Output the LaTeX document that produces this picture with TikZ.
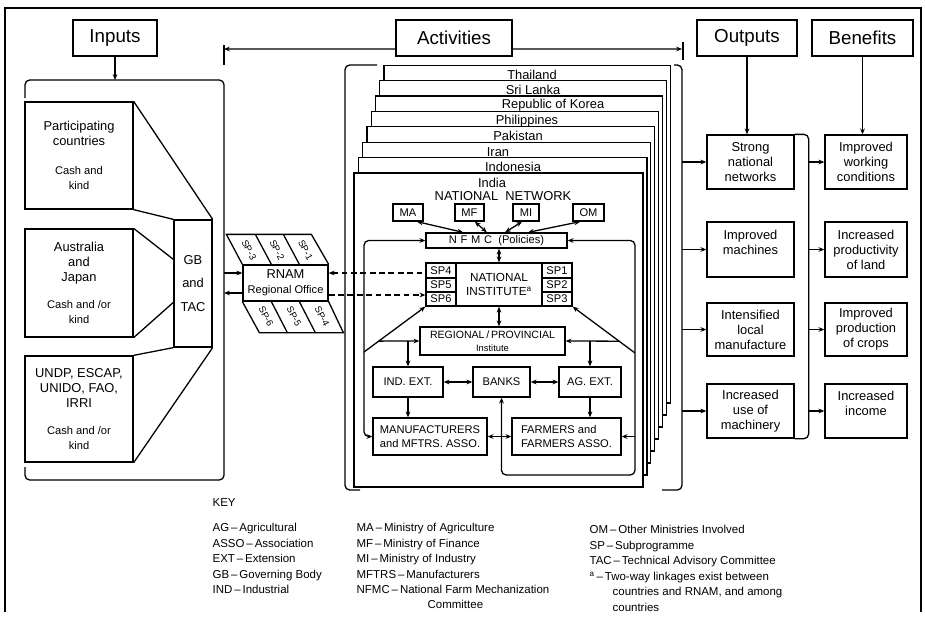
\documentclass[tikz,border=0pt]{standalone}
\usepackage{fontspec}
\setmainfont{Liberation Sans}
\usetikzlibrary{arrows.meta,calc}
\newcommand\sm{\fontsize{9.5}{12}\selectfont}

\begin{document}
\begin{tikzpicture}[x=0.3mm,y=-0.3mm,line width=1.1pt,
  >={Stealth[length=5pt,width=4pt]},
  box/.style={draw,inner sep=0pt,align=center,font=\fontsize{11}{12.8}\selectfont},
  wh/.style 2 args={minimum width={#1*0.3mm},minimum height={#2*0.3mm}},
  head/.style={box,line width=1.3pt,font=\fontsize{16}{18}\selectfont},
  small/.style={font=\fontsize{9.5}{11.5}\selectfont},
  spl/.style={rotate=-62,inner sep=0pt,font=\fontsize{8}{8.5}\selectfont},
  dashln/.style={line width=0.9pt,dash pattern=on 5pt off 3pt},
  key/.style={anchor=base west,inner sep=0pt,font=\fontsize{9.8}{11}\selectfont}]

  \useasboundingbox (0,0) rectangle (925,619);
  \draw[line width=1.4pt] (5,612) -- (5,8) -- (921,8) -- (921,612);

  % headings
  \node[head,wh={84}{36}] (inputs) at (115,38) {Inputs};
  \node[head,wh={116}{36}] (act) at (454,38) {Activities};
  \node[head,wh={100}{36}] (outputs) at (747,38) {Outputs};
  \node[head,wh={101}{36}] (benefits) at (862.5,38) {Benefits};

  % inputs
  \coordinate (inR) at (224,0); \coordinate (inT) at (115,80);
  \draw[rounded corners=4pt] (25,98) -- (25,80) -- (224,80) -- (224,480) -- (25,480) -- (25,467);
  \draw[->] (inputs) -- (inT);
  \node[box,wh={108}{107}] (pc) at (79,155.5) {Participating\\countries\\[12pt]\sm Cash and\\\sm kind};
  \node[box,wh={108}{108}] (aj) at (79,283) {Australia\\and\\Japan\\[10pt]\sm Cash and /or\\\sm kind};
  \node[box,wh={108}{106}] (un) at (79,409) {UNDP, ESCAP,\\UNIDO, FAO,\\IRRI\\[10pt]\sm Cash and /or\\\sm kind};
  \node[box,wh={38}{127},font=\fontsize{11}{20}\selectfont] (gb) at (193,283.5) {GB\\and\\TAC};
  \draw (pc.north east) -- (gb.north east); \draw (pc.south east) -- (gb.north west);
  \draw (aj.north east) -- ($(gb.north west)+(0,40)$); \draw (aj.south east) -- ($(gb.north west)+(0,83)$);
  \draw (un.north east) -- (gb.south west); \draw (un.south east) -- (gb.south east);

  % regional office
  \node[box,wh={85}{36}] (rnam) at (285.5,283) {RNAM\\\sm Regional Office};
  \draw (rnam.north west) -- ++(-16,-30) -- ++(85,0) -- (rnam.north east);
  \draw ($(rnam.north west)+(29,0)$) -- ++(-16,-30); \draw ($(rnam.north west)+(57,0)$) -- ++(-16,-30);
  \draw (rnam.south west) -- ++(17,31) -- ++(84,0) -- (rnam.south east);
  \draw ($(rnam.south west)+(29,0)$) -- ++(16,31); \draw ($(rnam.south west)+(57,0)$) -- ++(16,31);
  \foreach \t/\x in {3/249,2/277,1/305.5} \node[spl] (spt\t) at (\x,250) {SP-\t};
  \foreach \t/\x in {6/266,5/294,4/322} \node[spl] (spb\t) at (\x,316.5) {SP-\t};
  \coordinate (ra) at ([yshift=3mm]rnam.west); \coordinate (rb) at ([yshift=-3mm]rnam.west);
  \draw[->] (ra -| inR) -- (ra); \draw[<-] (rb -| inR) -- (rb);

  % country pages
  \foreach \k in {7,...,0}
    \filldraw[fill=white] ({354+4.3*\k},{173-15.4*\k}) rectangle ({643+3.9*\k},{487-12*\k});
  \foreach \c/\x [count=\k from 0] in {India/492,Indonesia/513,Iran/498,Pakistan/518,Philippines/527,Republic of Korea/553,Sri Lanka/533,Thailand/532}
    \node[inner sep=0pt,font=\fontsize{11}{12}\selectfont] (c\k) at (\x,{182.5-15.4*\k}) {\c};
  \node[inner sep=0pt,font=\fontsize{11}{12}\selectfont] (nn) at (503,196) {NATIONAL\ \ NETWORK};
  \draw[rounded corners=4pt] (377,65) -- (345,65) -- (345,490) -- (360,490);
  \draw[rounded corners=4pt] (674,65) -- (682,65) -- (682,490) -- (662,490);
  \coordinate (actL) at (224,49); \coordinate (actRt) at (682,49);
  \draw[->] ([yshift=-3.3mm]act.west) -- (actL); \draw[->] ([yshift=-3.3mm]act.east) -- (actRt);
  \draw (224,45) -- (224,65); \draw (683,42) -- (683,60);

  % national network
  \node[box,small,wh={30}{17}] (ma) at (408,212.5) {MA};
  \node[box,small,wh={29}{17}] (mf) at (469.5,212.5) {MF};
  \node[box,small,wh={26}{17}] (mi) at (526,212.5) {MI};
  \node[box,small,wh={31}{17}] (om) at (588.5,212.5) {OM};
  \node[box,small,wh={141}{15}] (nfmc) at (496.5,240.5) {N\,\,F\,\,M\,\,C\ \ (Policies)};
  \draw[<->] ([xshift=2.7mm]ma.south) -- ([xshift=-10mm]nfmc.north);
  \draw[<->] ([xshift=1.6mm]mf.south) -- ([xshift=-2.9mm]nfmc.north);
  \draw[<->] ([xshift=-1.2mm]mi.south) -- ([xshift=2.6mm]nfmc.north);
  \draw[<->] ([xshift=-2.5mm]om.south) -- ([xshift=9.5mm]nfmc.north);

  \node[box,wh={86}{43},font=\fontsize{10}{12.5}\selectfont] (ni) at (499,284.5) {NATIONAL\\INSTITUTE\textsuperscript{a}};
  \node[box,small,wh={30}{15}] (sp4) at (441,270.5) {SP4};
  \node[box,small,wh={30}{14}] (sp5) at (441,285) {SP5};
  \node[box,small,wh={30}{14}] (sp6) at (441,299) {SP6};
  \node[box,small,wh={30}{15}] (sp1) at (557,270.5) {SP1};
  \node[box,small,wh={30}{14}] (sp2) at (557,285) {SP2};
  \node[box,small,wh={30}{14}] (sp3) at (557,299) {SP3};
  \coordinate (rc) at ([yshift=3mm]rnam.east); \coordinate (rd) at ([yshift=-3.6mm]rnam.east);
  \draw[dashln,<-] (rc) -- (rc -| sp4.west);
  \draw[dashln,->] (rd) -- (rd -| sp6.west);

  \node[box,wh={145}{28},font=\fontsize{9}{11}\selectfont] (reg) at (492.5,341) {REGIONAL\,/\,PROVINCIAL\\\fontsize{8}{9}\selectfont Institute};
  \node[box,small,wh={70}{30}] (ind) at (408,382) {IND. EXT.};
  \node[box,small,wh={57}{30}] (banks) at (501.5,382) {BANKS};
  \node[box,small,wh={62}{30}] (ag) at (590,382) {AG. EXT.};
  \node[box,small,wh={114}{37}] (manuf) at (430,436.5) {MANUFACTURERS\\and MFTRS. ASSO.};
  \node[box,small,wh={109}{37},align=left] (farm) at (566.5,436.5) {FARMERS and\\FARMERS ASSO.};
  \draw[<->] (ni.north) -- (ni.north |- nfmc.south);
  \draw[<->] (ni.south) -- (ni.south |- reg.north);

  \coordinate (loopL) at (364,0); \coordinate (loopR) at (635,0); \coordinate (loopB) at (635,475);
  \coordinate (dL) at (364,352); \coordinate (dR) at (635,353);
  \draw[->] (dL) -- (sp6.south west); \draw[->] (dR) -- (sp3.south east);
  \coordinate (jL) at ($(dL)!0.24!(sp6.south west)$); \coordinate (jR) at ($(dR)!0.255!(sp3.south east)$);
  \draw[->] (jL) -- (reg.west); \draw[->] (jR) -- (reg.east);
  \draw[->] (ind.north |- reg.west) -- (ind.north); \draw[->] (ag.north |- reg.east) -- (ag.north);
  \draw[<->] (ind) -- (banks); \draw[<->] (banks) -- (ag);
  \draw[->] (ind) -- (ind |- manuf.north); \draw[->] (ag) -- (ag |- farm.north);
  \draw[<->] (manuf) -- (farm);
  \draw[<->,rounded corners=4pt] (manuf.west) -| (loopL |- nfmc.west) -- (nfmc.west);
  \draw[<->,rounded corners=4pt] (nfmc.east) -| (loopB) -| (banks.south);
  \draw[->] (farm.east -| loopR) -- (farm.east);

  % outputs and benefits
  \foreach \i/\y/\h/\o/\b in {1/162/54/{Strong\\national\\networks}/{Improved\\working\\conditions},
      2/249.5/55/{Improved\\machines\\\mbox{}}/{Increased\\productivity\\of land},
      3/329.5/53/{Intensified\\local\\manufacture}/{Improved\\production\\of crops},
      4/411/54/{Increased\\use of\\machinery}/{Increased\\income\\\mbox{}}} {
    \node[box,wh={87}{\h}] (out\i) at (750.5,\y) {\o};
    \node[box,wh={82}{\h}] (ben\i) at (866,\y) {\b};
  }
  \draw[->] (outputs) -- (outputs |- out1.north); \draw[->] (benefits) -- (benefits |- ben1.north);
  \draw[rounded corners=4pt] (out1.north east) -- ++(14,0) |- (out4.south east);
  \coordinate (outR) at (808,0);
  \foreach \i in {1,...,4} {
    \draw[->] (out\i.west -| actRt) -- (out\i.west);
    \draw[->] (ben\i.west -| outR) -- (ben\i.west);
  }

  % key
  \node[key] (keyt) at (212,506) {KEY};
  \foreach \t [count=\i] in {AG\,–\,Agricultural,ASSO\,–\,Association,EXT\,–\,Extension,GB\,–\,Governing Body,IND\,–\,Industrial}
    \node[key] (kl\i) at (212,{516+15.5*\i}) {\t};
  \foreach \t [count=\i] in {MA\,–\,Ministry of Agriculture,MF\,–\,Ministry of Finance,MI\,–\,Ministry of Industry,MFTRS\,–\,Manufacturers,NFMC\,–\,National Farm Mechanization}
    \node[key] (km\i) at (356,{516+15.5*\i}) {\t};
  \node[key] (km6) at (427,608.5) {Committee};
  \foreach \t [count=\i] in {OM\,–\,Other Ministries Involved,SP\,–\,Subprogramme,TAC\,–\,Technical Advisory Committee}
    \node[key] (kr\i) at (589,{518+15.5*\i}) {\t};
  \node[key] (kr4) at (589,580.5) {\textsuperscript{a}\,–\,Two-way linkages exist between};
  \node[key] (kr5) at (612,595.5) {countries and RNAM, and among};
  \node[key] (kr6) at (612,611) {countries};
\end{tikzpicture}
\end{document}
